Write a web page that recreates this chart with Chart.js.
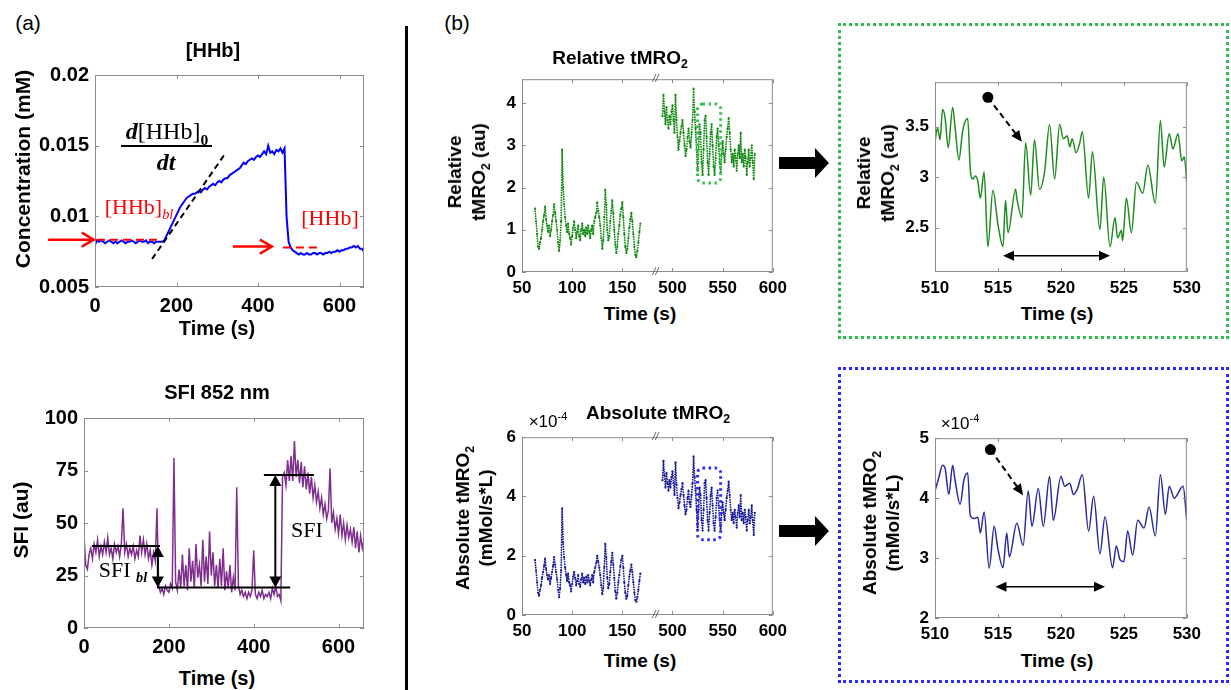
<!DOCTYPE html>
<html>
<head>
<meta charset="utf-8">
<script src="https://cdn.jsdelivr.net/npm/chart.js@4.4.0/dist/chart.umd.min.js"></script>
<style>
body { margin: 0; background: #fff; }
#page { position: relative; width: 1231px; height: 690px; overflow: hidden; font-family: "Liberation Sans", Arial, sans-serif; }
canvas { position: absolute; }
.t { position: absolute; transform: translate(-50%, -50%); white-space: nowrap; font-weight: bold; color: #000; line-height: 1; z-index: 2; }
.r { transform: translate(-50%, -50%) rotate(-90deg); text-align: center; }
.serif { font-family: "Liberation Serif", "Times New Roman", serif; font-weight: normal; }
.red { color: #ff0000; }
.norm { font-weight: normal; }
sub, sup { font-size: 65%; line-height: 0; }
.frame { position: absolute; box-sizing: border-box; border: 3px dotted; }
.blk { position: absolute; background: #000; }
.head { position: absolute; width: 0; height: 0; border-top: 15px solid transparent; border-bottom: 15px solid transparent; border-left: 14px solid #000; }
</style>
</head>
<body>
<div id="page">
  <!-- marcos punteados y separador -->
  <div class="frame" style="left:838px;top:23px;width:391px;height:316px;border-color:#2ebd4e"></div>
  <div class="frame" style="left:838px;top:367px;width:391px;height:316px;border-color:#2a2aff"></div>
  <div class="blk" style="left:405px;top:26px;width:3px;height:664px"></div>
  <div class="blk" style="left:779px;top:157px;width:37px;height:12px"></div>
  <div class="head" style="left:815px;top:148px"></div>
  <div class="blk" style="left:779px;top:525px;width:37px;height:12px"></div>
  <div class="head" style="left:815px;top:516px"></div>

  <canvas id="cHHb" width="384" height="265" style="left:0;top:57px"></canvas>
  <canvas id="cSFI" width="384" height="263" style="left:0;top:400px"></canvas>
  <canvas id="cRel" width="331" height="239" style="left:462px;top:63px"></canvas>
  <canvas id="cAbs" width="331" height="224" style="left:462px;top:421px"></canvas>
  <canvas id="cRelZ" width="332" height="236" style="left:875px;top:66px"></canvas>
  <canvas id="cAbsZ" width="332" height="226" style="left:875px;top:422px"></canvas>

  <!-- textos (a) -->
  <div class="t norm" style="left:28px;top:22px;font-size:21px">(a)</div>
  <div class="t" style="left:213px;top:50px;font-size:20px">[HHb]</div>
  <div class="t r" style="left:22px;top:169px;font-size:21px">Concentration (mM)</div>
  <div class="t" style="left:217px;top:328px;font-size:20px">Time (s)</div>
  <div class="t serif red" style="left:139px;top:207px;font-size:22px">[HHb]<sub><i>bl</i></sub></div>
  <div class="t serif red" style="left:330px;top:218px;font-size:22px">[HHb]</div>
  <div class="t serif" style="left:167px;top:131px;font-size:24px"><b><i>d</i></b>[HHb]<sub><b>0</b></sub></div>
  <div class="blk" style="left:121px;top:145px;width:91px;height:2px"></div>
  <div class="t serif" style="left:166px;top:162px;font-size:24px"><b><i>dt</i></b></div>

  <div class="t" style="left:217px;top:392px;font-size:20px">SFI 852 nm</div>
  <div class="t r" style="left:20px;top:520px;font-size:21px">SFI (au)</div>
  <div class="t" style="left:217px;top:678px;font-size:20px">Time (s)</div>
  <div class="t serif" style="left:123px;top:570px;font-size:22px">SFI <sub><b><i>bl</i></b></sub></div>
  <div class="t serif" style="left:307px;top:530px;font-size:22px">SFI</div>

  <!-- textos (b) -->
  <div class="t norm" style="left:457px;top:22px;font-size:21px">(b)</div>
  <div class="t" style="left:620px;top:57px;font-size:19px">Relative tMRO<sub>2</sub></div>
  <div class="t r" style="left:467px;top:172px;font-size:19px;line-height:24px">Relative<br>tMRO<sub>2</sub> (au)</div>
  <div class="t" style="left:640px;top:313px;font-size:19px">Time (s)</div>

  <div class="t" style="left:658px;top:412px;font-size:19px">Absolute tMRO<sub>2</sub></div>
  <div class="t norm" style="left:548px;top:421px;font-size:17px">&times;10<sup>-4</sup></div>
  <div class="t r" style="left:474px;top:518px;font-size:19px;line-height:23px">Absolute tMRO<sub>2</sub><br>(mMol/s*L)</div>
  <div class="t" style="left:640px;top:660px;font-size:19px">Time (s)</div>

  <div class="t r" style="left:876px;top:173px;font-size:19px;line-height:24px">Relative<br>tMRO<sub>2</sub> (au)</div>
  <div class="t" style="left:1057px;top:313px;font-size:19px">Time (s)</div>

  <div class="t r" style="left:881px;top:523px;font-size:19px;line-height:23px">Absolute tMRO<sub>2</sub><br>(mMol/s*L)</div>
  <div class="t norm" style="left:960px;top:423px;font-size:17px">&times;10<sup>-4</sup></div>
  <div class="t" style="left:1057px;top:660px;font-size:19px">Time (s)</div>
</div>

<script>
// ===== DATOS =====

// [HHb] cada 5 s, de 0 a 660 s (mM)
const hhbConc = [
  0.0080,0.0083,0.0082,0.0083,0.0082,0.0081,0.0082,0.0083,0.0082,0.0081,
  0.0082,0.0081,0.0082,0.0083,0.0082,0.0081,0.0082,0.0082,0.0083,0.0082,
  0.0081,0.0082,0.0083,0.0082,0.0082,0.0083,0.0081,0.0082,0.0082,0.0081,
  0.0082,0.0082,0.0082,0.0082,0.0083,0.0086,0.0089,0.0092,0.0095,0.0098,
  0.0101,0.0104,0.0107,0.0109,0.0111,0.0113,0.0114,0.0115,0.0116,0.0116,
  0.0117,0.0118,0.0117,0.0119,0.0120,0.0119,0.0121,0.0122,0.0123,0.0122,
  0.0124,0.0125,0.0124,0.0126,0.0127,0.0127,0.0129,0.0130,0.0131,0.0132,
  0.0133,0.0134,0.0136,0.0138,0.0137,0.0139,0.0140,0.0141,0.0140,0.0142,
  0.0143,0.0142,0.0144,0.0146,0.0144,0.0150,0.0145,0.0146,0.0144,0.0147,
  0.0146,0.0148,0.0145,0.0148,0.0100,0.0082,0.0078,0.0076,0.0075,0.0074,
  0.0073,0.0074,0.0073,0.0073,0.0074,0.0073,0.0073,0.0074,0.0074,0.0073,
  0.0074,0.0074,0.0073,0.0074,0.0074,0.0075,0.0074,0.0075,0.0075,0.0076,
  0.0075,0.0076,0.0076,0.0077,0.0077,0.0078,0.0078,0.0079,0.0078,0.0079,
  0.0077,0.0077,0.0075
];
const hhbStep = 5;

// SFI 852 nm cada 4 s, de 0 a 660 s
const sfiValue = [
  44,30,28,35,38,33,40,36,42,34,
  39,35,41,36,43,35,38,33,40,36,
  39,34,40,57,36,40,34,38,35,39,
  33,37,34,44,36,42,35,40,33,37,
  30,36,32,57,20,17,19,16,20,18,
  17,21,19,81,22,18,28,19,35,20,
  30,18,38,22,32,19,40,24,30,20,
  42,22,34,21,46,25,36,20,30,19,
  33,20,38,18,27,19,30,17,24,18,
  67,20,16,18,15,17,14,17,15,18,
  37,16,14,17,15,18,14,16,15,17,
  14,19,16,20,15,16,13,72,74,68,
  80,70,82,70,89,72,80,69,79,67,
  77,66,74,64,72,62,68,60,65,57,
  62,54,59,52,56,76,50,55,47,52,
  45,54,44,50,42,49,43,47,41,48,
  38,46,36,44,38,42
];
const sfiStep = 4;

// tMRO2 relativo, 1 punto por segundo (63-168 s y 490-582 s)
const relLeftValue = [
  1.5,1.2,0.9,0.6,0.55,0.7,0.8,1.0,1.2,1.35,
  1.55,1.25,1.1,0.95,1.1,0.85,1.0,1.2,1.35,1.6,
  1.4,1.2,1.0,0.7,0.5,0.75,1.2,2.9,2.0,1.6,
  1.3,1.1,0.95,1.15,0.9,0.8,0.65,0.85,1.05,1.2,
  1.0,0.8,0.95,1.1,0.85,0.75,1.0,1.15,0.9,1.0,
  0.85,1.05,0.9,1.1,0.95,0.8,1.0,1.1,0.9,1.2,
  1.3,1.4,1.65,1.45,1.3,1.1,0.8,0.55,0.75,1.3,
  1.95,1.6,1.0,0.75,0.85,1.2,1.45,1.7,1.4,1.0,
  0.65,0.45,0.6,0.9,1.1,1.35,1.5,1.65,1.3,0.9,
  0.6,0.45,0.55,0.8,1.05,1.25,1.4,1.2,0.9,0.6,
  0.4,0.35,0.5,0.7,0.95,1.15
];
const relRightValue = [
  3.7,4.2,3.8,3.5,3.9,3.6,3.4,3.7,3.5,3.8,
  3.95,3.6,3.3,4.2,3.6,3.2,2.9,3.1,3.3,3.45,
  3.6,3.3,3.0,2.75,2.9,3.2,3.4,3.1,2.95,3.3,
  3.6,4.35,3.8,3.4,2.9,2.4,2.9,3.5,3.3,2.6,
  2.3,2.9,3.6,3.7,3.2,2.6,2.3,2.8,3.3,3.5,
  3.0,2.5,2.3,2.7,3.2,3.4,3.0,2.6,2.35,2.8,
  3.1,2.8,2.6,2.9,3.2,3.4,3.65,3.3,2.9,2.6,
  2.8,2.5,2.9,2.7,2.4,2.8,3.0,2.7,3.3,2.6,
  2.8,2.5,2.9,2.7,2.3,2.6,2.9,2.5,2.7,3.0,
  2.6,2.2,2.8
];

// tMRO2 absoluto (x10^-4 mMol/s*L), mismos tiempos
const absLeftValue = [
  1.85,1.5,1.1,0.75,0.65,0.85,1.0,1.25,1.45,1.65,
  1.9,1.55,1.35,1.2,1.35,1.05,1.25,1.45,1.65,1.95,
  1.7,1.45,1.2,0.85,0.6,0.9,1.5,3.6,2.45,1.95,
  1.6,1.35,1.15,1.4,1.1,1.0,0.8,1.05,1.3,1.45,
  1.25,1.0,1.15,1.35,1.05,0.95,1.2,1.4,1.1,1.25,
  1.05,1.3,1.1,1.35,1.15,1.0,1.2,1.35,1.1,1.45,
  1.6,1.75,2.0,1.8,1.6,1.35,1.0,0.7,0.9,1.6,
  2.4,1.95,1.25,0.9,1.05,1.45,1.8,2.1,1.7,1.25,
  0.8,0.55,0.75,1.1,1.35,1.65,1.85,2.0,1.6,1.1,
  0.75,0.55,0.65,1.0,1.3,1.5,1.7,1.45,1.1,0.75,
  0.5,0.45,0.6,0.85,1.15,1.4
];
const absRightValue = [
  4.55,5.2,4.7,4.3,4.8,4.45,4.2,4.55,4.3,4.65,
  4.85,4.45,4.05,5.15,4.4,3.95,3.6,3.8,4.05,4.25,
  4.45,4.05,3.7,3.4,3.55,3.95,4.2,3.8,3.65,4.05,
  4.45,5.35,4.65,4.2,3.55,2.95,3.55,4.3,4.05,3.2,
  2.85,3.55,4.45,4.55,3.95,3.2,2.85,3.45,4.05,4.3,
  3.7,3.1,2.85,3.3,3.95,4.2,3.7,3.2,2.9,3.45,
  3.8,3.45,3.2,3.55,3.95,4.2,4.5,4.05,3.55,3.2,
  3.45,3.1,3.55,3.3,2.95,3.45,3.7,3.3,4.05,3.2,
  3.45,3.1,3.55,3.3,2.85,3.2,3.55,3.1,3.3,3.7,
  3.2,2.7,3.45
];
const leftStart = 63, leftEnd = 168, rightStart = 490, rightEnd = 582;

// detalle 510-530 s
const zoomRelTime = [510.0,510.2,510.4,510.6,510.8,511.05,511.4,511.6,511.9,512.2,512.6,512.8,513.0,513.2,513.4,513.6,513.9,514.2,514.6,515.0,515.4,515.6,515.8,516.4,516.5,516.9,517.2,517.6,517.9,518.3,518.7,519.1,519.5,519.9,520.2,520.5,520.7,520.9,521.2,521.5,521.7,522.2,522.5,523.1,523.4,523.9,524.3,524.5,524.8,524.9,525.2,525.6,526.0,526.5,526.9,527.5,527.9,528.2,528.6,528.9,529.3,529.6,529.8,530.0];
const zoomRelValue = [3.35,3.49,3.37,3.67,3.59,3.29,3.69,3.49,3.17,3.46,3.58,3.08,2.98,3.01,2.96,2.79,3.05,2.31,2.87,2.53,2.31,2.77,2.45,2.88,2.79,2.60,3.34,2.82,3.37,2.88,3.05,3.52,2.98,3.52,3.38,3.41,3.30,3.38,3.24,3.34,3.45,2.79,3.25,2.48,3.00,2.31,2.60,2.40,2.47,2.37,2.79,2.45,2.95,2.84,3.12,2.74,3.56,3.10,3.43,3.28,3.43,3.16,3.20,2.95];
const zoomAbsTime = [510.0,510.3,510.6,510.8,511.1,511.4,511.6,512.0,512.3,512.6,512.8,513.1,513.4,513.6,513.9,514.3,514.7,515.0,515.4,515.7,515.9,516.5,517.0,517.4,517.7,518.2,518.6,519.1,519.4,520.0,520.3,520.7,521.0,521.3,521.7,522.2,522.6,523.1,523.5,524.1,524.4,524.7,525.0,525.3,525.7,526.1,526.6,527.0,527.5,527.9,528.3,528.6,529.0,529.7,530.0];
const zoomAbsValue = [4.12,4.34,4.55,4.50,4.06,4.55,4.29,3.90,4.31,4.42,3.71,3.66,3.68,3.42,3.77,2.83,3.53,3.15,2.84,3.42,3.02,3.58,3.21,4.12,3.53,4.16,3.53,4.36,3.63,4.36,4.20,4.25,4.06,4.15,4.39,3.45,4.03,3.07,3.69,2.84,3.20,2.97,2.94,3.45,3.05,3.63,3.50,3.85,3.37,4.39,3.73,4.20,4.00,4.20,3.63];

// etiquetas del eje cortado (50-183 s | 483-600 s)
const brokenTickLabels = ['50', '100', '150', '500', '550', '600'];
const breakAt = 183, breakShift = 300;

// ===== UTILIDADES =====
Chart.defaults.font.family = '"Liberation Sans", Arial, sans-serif';
Chart.defaults.color = '#000';

function secs(a, b) { const out = []; for (let t = a; t <= b; t++) out.push(t); return out; }
function pts(times, vals, shift) { return vals.map((v, i) => ({ x: times[i] - (shift || 0), y: v })); }
function brokenX(t) { return t > breakAt ? t - breakShift : t; }
function fmt(v) { return String(+v.toFixed(4)); }

// marco gris con marcas hacia dentro (estilo MATLAB)
const frame = {
  id: 'frame',
  afterDatasetsDraw(chart) {
    const { ctx, chartArea: a, scales: { x, y } } = chart;
    ctx.save();
    ctx.strokeStyle = '#8c8c8c';
    ctx.lineWidth = 1;
    ctx.strokeRect(a.left + 0.5, a.top + 0.5, a.width - 1, a.height - 1);
    ctx.beginPath();
    x.ticks.forEach(t => {
      const px = Math.round(x.getPixelForValue(t.value)) + 0.5;
      ctx.moveTo(px, a.bottom); ctx.lineTo(px, a.bottom - 4);
      ctx.moveTo(px, a.top); ctx.lineTo(px, a.top + 4);
    });
    y.ticks.forEach(t => {
      const py = Math.round(y.getPixelForValue(t.value)) + 0.5;
      ctx.moveTo(a.left, py); ctx.lineTo(a.left + 4, py);
      ctx.moveTo(a.right, py); ctx.lineTo(a.right - 4, py);
    });
    ctx.stroke();
    ctx.restore();
  }
};

function head(ctx, x1, y1, x2, y2, len, half, filled) {
  const a = Math.atan2(y2 - y1, x2 - x1);
  const bx = x2 - len * Math.cos(a), by = y2 - len * Math.sin(a);
  const nx = -Math.sin(a) * half, ny = Math.cos(a) * half;
  ctx.beginPath();
  ctx.moveTo(bx + nx, by + ny);
  ctx.lineTo(x2, y2);
  ctx.lineTo(bx - nx, by - ny);
  if (filled) { ctx.closePath(); ctx.fill(); } else { ctx.stroke(); }
}

// flecha en coordenadas de datos
function arrow(chart, p1, p2, o) {
  const { ctx, scales: { x, y } } = chart;
  const x1 = x.getPixelForValue(p1[0]), y1 = y.getPixelForValue(p1[1]);
  const x2 = x.getPixelForValue(p2[0]), y2 = y.getPixelForValue(p2[1]);
  const len = o.len || 10, half = o.half || 5;
  const a = Math.atan2(y2 - y1, x2 - x1);
  const cut = o.open ? 0 : len * 0.6;
  ctx.save();
  ctx.strokeStyle = ctx.fillStyle = o.color || '#000';
  ctx.lineWidth = o.width || 2;
  ctx.setLineDash(o.dash || []);
  ctx.beginPath();
  ctx.moveTo(x1 + (o.both ? cut * Math.cos(a) : 0), y1 + (o.both ? cut * Math.sin(a) : 0));
  ctx.lineTo(x2 - cut * Math.cos(a), y2 - cut * Math.sin(a));
  ctx.stroke();
  ctx.setLineDash([]);
  head(ctx, x1, y1, x2, y2, len, half, !o.open);
  if (o.both) head(ctx, x2, y2, x1, y1, len, half, !o.open);
  ctx.restore();
}

function seg(chart, p1, p2, o) {
  const { ctx, scales: { x, y } } = chart;
  ctx.save();
  ctx.strokeStyle = o.color || '#000';
  ctx.lineWidth = o.width || 2;
  ctx.setLineDash(o.dash || []);
  ctx.beginPath();
  ctx.moveTo(x.getPixelForValue(p1[0]), y.getPixelForValue(p1[1]));
  ctx.lineTo(x.getPixelForValue(p2[0]), y.getPixelForValue(p2[1]));
  ctx.stroke();
  ctx.restore();
}

function dottedBox(chart, t1, v1, t2, v2, color) {
  const { ctx, scales: { x, y } } = chart;
  const xa = x.getPixelForValue(brokenX(t1)), xb = x.getPixelForValue(brokenX(t2));
  const ya = y.getPixelForValue(v1), yb = y.getPixelForValue(v2);
  ctx.save();
  ctx.strokeStyle = color;
  ctx.lineWidth = 3;
  ctx.setLineDash([2.5, 3.5]);
  ctx.beginPath();
  ctx.roundRect(xa, ya, xb - xa, yb - ya, 5);
  ctx.stroke();
  ctx.restore();
}

function breakMarks(chart) {
  const { ctx, chartArea: a, scales: { x } } = chart;
  const px = x.getPixelForValue(breakAt);
  ctx.save();
  ctx.fillStyle = '#555';
  ctx.font = 'italic 11px "Liberation Sans", Arial, sans-serif';
  ctx.textAlign = 'center';
  ctx.textBaseline = 'middle';
  ctx.fillText('//', px, a.top);
  ctx.fillText('//', px, a.bottom);
  ctx.restore();
}

function options(o) {
  return {
    responsive: false,
    animation: false,
    events: [],
    layout: { padding: { top: o.pT, right: o.pR, left: 0, bottom: 0 } },
    plugins: { legend: { display: false }, tooltip: { enabled: false } },
    scales: {
      x: {
        type: 'linear', min: o.xmin, max: o.xmax,
        grid: { display: false, drawTicks: false }, border: { display: false },
        ticks: { stepSize: o.xstep, includeBounds: false, autoSkip: false, maxRotation: 0,
                 padding: o.xPad || 7, font: { size: o.font, weight: 'bold' }, color: '#000',
                 callback: o.xfmt || fmt },
        afterFit: s => { s.height = o.xH; }
      },
      y: {
        type: 'linear', min: o.ymin, max: o.ymax,
        grid: { display: false, drawTicks: false }, border: { display: false },
        ticks: { stepSize: o.ystep, includeBounds: false, autoSkip: false,
                 padding: o.yPad || 6, font: { size: o.font, weight: 'bold' }, color: '#000',
                 callback: fmt },
        afterFit: s => { s.width = o.yW; }
      }
    }
  };
}

// ===== GRÁFICOS =====
document.addEventListener('DOMContentLoaded', function() {
  const hhbTime = hhbConc.map((_, i) => i * hhbStep);
  const sfiTime = sfiValue.map((_, i) => i * sfiStep);
  const leftTime = secs(leftStart, leftEnd);
  const rightTime = secs(rightStart, rightEnd);

  // [HHb]
  new Chart(document.getElementById('cHHb'), {
    type: 'line',
    data: { datasets: [{ data: pts(hhbTime, hhbConc), borderColor: '#0000ff', borderWidth: 2, pointRadius: 0, tension: 0 }] },
    options: options({ xmin: 0, xmax: 660, xstep: 200, ymin: 0.005, ymax: 0.02, ystep: 0.005,
                       yW: 95, xH: 35, pT: 10, pR: 20, font: 20 }),
    plugins: [frame, { id: 'hhbAnn', afterDraw(c) {
      seg(c, [140, 0.00698], [317, 0.01434], { dash: [6, 4], width: 2 });
      seg(c, [5, 0.00835], [160, 0.00835], { color: '#ff0000', dash: [8, 5], width: 2 });
      seg(c, [461, 0.0078], [557, 0.0078], { color: '#ff0000', dash: [8, 5], width: 2 });
      arrow(c, [-115, 0.00835], [-3, 0.00835], { color: '#ff0000', open: true, width: 2.5, len: 12, half: 7 });
      arrow(c, [338, 0.00786], [434, 0.00786], { color: '#ff0000', open: true, width: 2.5, len: 12, half: 7 });
    } }]
  });

  // SFI 852 nm
  new Chart(document.getElementById('cSFI'), {
    type: 'line',
    data: { datasets: [{ data: pts(sfiTime, sfiValue), borderColor: '#7e2f8e', borderWidth: 1.5, pointRadius: 0, tension: 0 }] },
    options: options({ xmin: 0, xmax: 660, xstep: 200, ymin: 0, ymax: 100, ystep: 25,
                       yW: 84, xH: 35, pT: 10, pR: 20, font: 20 }),
    plugins: [frame, { id: 'sfiAnn', afterDraw(c) {
      seg(c, [19, 39], [179, 39], { width: 2 });
      seg(c, [172, 19.3], [486, 19.3], { width: 2 });
      seg(c, [424, 72.9], [542, 72.9], { width: 2 });
      arrow(c, [174, 39], [174, 19.3], { both: true, width: 2, len: 11, half: 6 });
      arrow(c, [451, 72.9], [451, 19.3], { both: true, width: 2, len: 11, half: 6 });
    } }]
  });

  // tMRO2 relativo / absoluto con eje cortado: puntos densos (trazo punteado entre muestras)
  function dotSet(data, color) {
    return { data: data, showLine: true, borderColor: color, backgroundColor: color,
             borderWidth: 1.8, borderDash: [0.1, 2.4], borderCapStyle: 'round',
             pointRadius: 1.1, pointBorderWidth: 0 };
  }
  function brokenChart(id, leftVals, rightVals, color, ymax, ystep, box) {
    const xfmt = (v, i) => brokenTickLabels[i];
    return new Chart(document.getElementById(id), {
      type: 'scatter',
      data: { datasets: [
        dotSet(pts(leftTime, leftVals), color),
        dotSet(pts(rightTime, rightVals, breakShift), color)
      ] },
      options: options({ xmin: 50, xmax: 300, xstep: 50, ymin: 0, ymax: ymax, ystep: ystep,
                         yW: 60, xH: 30, pT: 10, pR: 20, font: 17, xfmt: xfmt, xPad: 6 }),
      plugins: [frame, { id: id + 'Ann', afterDraw(c) {
        dottedBox(c, box[0], box[1], box[2], box[3], box[4]);
        breakMarks(c);
      } }]
    });
  }
  brokenChart('cRel', relLeftValue, relRightValue, '#128a12', 4.57, 1, [525, 3.98, 548, 2.11, '#33c24f']);
  brokenChart('cAbs', absLeftValue, absRightValue, '#1c1c96', 6, 2, [525, 4.96, 548, 2.54, '#2a2aff']);

  // detalle 510-530 s
  function zoomChart(id, times, vals, color, ymin, ymax, ystep, ann) {
    return new Chart(document.getElementById(id), {
      type: 'line',
      data: { datasets: [{ data: pts(times, vals), borderColor: color, borderWidth: 1.5, pointRadius: 0,
                           cubicInterpolationMode: 'monotone' }] },
      options: options({ xmin: 510, xmax: 530, xstep: 5, ymin: ymin, ymax: ymax, ystep: ystep,
                         yW: 60, xH: 30, pT: 10, pR: 20, font: 17, xPad: 6 }),
      plugins: [frame, { id: id + 'Ann', afterDraw(c) {
        const { ctx, scales: { x, y } } = c;
        ctx.save();
        ctx.fillStyle = '#000';
        ctx.beginPath();
        ctx.arc(x.getPixelForValue(ann.dot[0]), y.getPixelForValue(ann.dot[1]), 5.5, 0, Math.PI * 2);
        ctx.fill();
        ctx.restore();
        arrow(c, ann.dot, ann.tip, { dash: [6, 4], width: 2, len: 11, half: 5 });
        arrow(c, ann.span[0], ann.span[1], { both: true, width: 1.5, len: 11, half: 5 });
      } }]
    });
  }
  zoomChart('cRelZ', zoomRelTime, zoomRelValue, '#1f8c1f', 2.06, 3.94, 0.5,
            { dot: [514.2, 3.79], tip: [516.9, 3.35], span: [[515.4, 2.22], [523.9, 2.22]] });
  zoomChart('cAbsZ', zoomAbsTime, zoomAbsValue, '#2b2b9c', 2, 5, 1,
            { dot: [514.4, 4.81], tip: [517.0, 4.05], span: [[514.8, 2.52], [523.5, 2.52]] });
});
</script>
</body>
</html>
